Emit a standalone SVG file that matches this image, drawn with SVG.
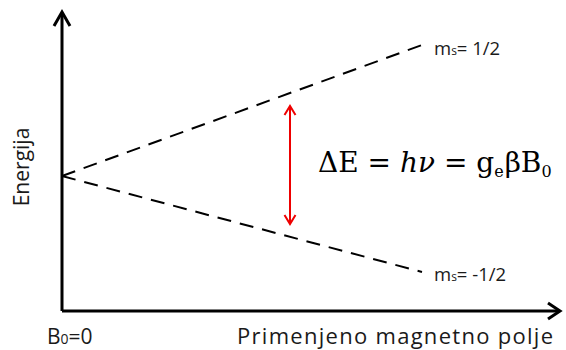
<svg xmlns="http://www.w3.org/2000/svg" width="566" height="350" viewBox="0 0 566 350">
<style>
.axis{stroke:#000;stroke-width:3;fill:none}
.dash{stroke:#000;stroke-width:2;fill:none;stroke-dasharray:14,9}
.lbl{font-family:"Open Sans","Liberation Sans",Arial,sans-serif;fill:#1a1a1a}
.eq{font-family:"DejaVu Serif","Liberation Serif",serif;fill:#000}
</style>
<defs>
<marker id="rh" markerWidth="14" markerHeight="14" refX="11" refY="7" orient="auto-start-reverse" markerUnits="userSpaceOnUse">
<path d="M2,1.5 L11,7 L2,12.5" fill="none" stroke="#e00" stroke-width="2"/>
</marker>
</defs>
<g id="connectors">
<path class="axis" d="M62,311 L62,14"/>
<path d="M54,26 L62,12 L70,26" fill="none" stroke="#000" stroke-width="3"/>
<path class="axis" d="M62,311 L558,311"/>
<path d="M548,303 L560,311 L548,319" fill="none" stroke="#000" stroke-width="3"/>
<path class="dash" d="M62,176 L422,45"/>
<path class="dash" d="M62,176 L422,272"/>
<line x1="290" y1="106" x2="290" y2="224" stroke="#e00" stroke-width="2" marker-start="url(#rh)" marker-end="url(#rh)"/>
</g>
<g id="upper">
<text class="lbl" x="434" y="55" font-size="18.5">m<tspan font-size="12">s</tspan>= 1/2</text>
</g>
<g id="lower">
<text class="lbl" x="434" y="281" font-size="18.5">m<tspan font-size="12">s</tspan>= -1/2</text>
</g>
<g id="formula">
<text class="eq" x="318" y="172" font-size="28">ΔE = <tspan font-style="italic">hν</tspan> = g<tspan font-size="16" dy="5">e</tspan><tspan dy="-5" dx="1">βB</tspan><tspan font-size="16" dy="5">0</tspan></text>
</g>
<g id="axis-labels">
<text class="lbl" x="47" y="344" font-size="21">B<tspan font-size="14">0</tspan>=0</text>
<text class="lbl" x="237" y="344" font-size="22" textLength="316" lengthAdjust="spacing">Primenjeno magnetno polje</text>
<text class="lbl" x="0" y="0" font-size="21" transform="translate(29,167) rotate(-90)" text-anchor="middle">Energija</text>
</g>
</svg>
